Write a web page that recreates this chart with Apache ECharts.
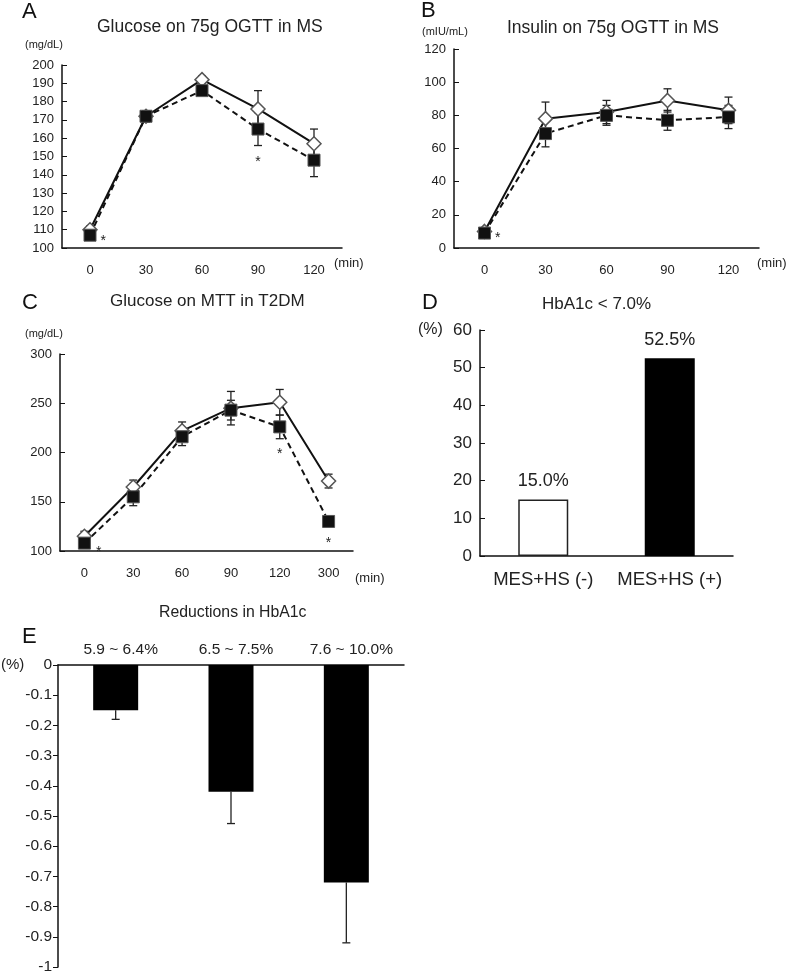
<!DOCTYPE html>
<html><head><meta charset="utf-8">
<script src="https://cdn.jsdelivr.net/npm/echarts@6/dist/echarts.min.js"></script>
<style>html,body{margin:0;padding:0;background:#fff}#c{width:787px;height:975px}</style>
</head><body><div id="c"></div>
<script>
// ---- Data ----
const catsAB = ['0','30','60','90','120'];
const catsC = ['0','30','60','90','120','300'];
// Panel A: glucose OGTT (mg/dL)
const A_solid = [110, 172, 192, 176, 157];
const A_solidErr = [2, 3, 2, 10, 8];
const A_dashed = [107, 172, 186, 165, 148];
const A_dashedErr = [2, 3, 2, 9, 9];
const A_sig = [0, 3];
// Panel B: insulin OGTT (mIU/mL)
const B_solid = [10, 78, 82, 89, 83];
const B_solidErr = [2, 10, 7, 7, 8];
const B_dashed = [9, 69, 80, 77, 79];
const B_dashedErr = [2, 8, 6, 6, 7];
const B_sig = [0];
// Panel C: glucose MTT (mg/dL)
const C_solid = [115, 165, 222, 245, 251, 171];
const C_solidErr = [5, 7, 9, 17, 13, 7];
const C_dashed = [108, 155, 216, 243, 226, 130];
const C_dashedErr = [4, 9, 9, 10, 12, 4];
const C_sig = [0, 4, 5];
// Panel D: HbA1c < 7.0% (%)
const D_cats = ['MES+HS (-)', 'MES+HS (+)'];
const D_vals = [15.0, 52.5];
// Panel E: Reductions in HbA1c (%)
const E_cats = ['5.9 ~ 6.4%', '6.5 ~ 7.5%', '7.6 ~ 10.0%'];
const E_vals = [-0.15, -0.42, -0.72];
const E_err = [0.03, 0.105, 0.20];

const FONT = 'Liberation Sans, Arial, sans-serif';
const TXT = '#222';

function errData(vals, errs){ return vals.map((v,i)=>[i, v-errs[i], v+errs[i]]); }
function errSeries(idx, vals, errs, capBottom, capTop){
  return {
    type:'custom', xAxisIndex:idx, yAxisIndex:idx, z:1, silent:true,
    data: errData(vals, errs),
    encode:{x:0, y:[1,2]},
    renderItem:function(params, api){
      const lo = api.coord([api.value(0), api.value(1)]);
      const hi = api.coord([api.value(0), api.value(2)]);
      const w = 4;
      const st = {stroke:'#222', lineWidth:1.3};
      const ch = [{type:'line', shape:{x1:lo[0],y1:lo[1],x2:hi[0],y2:hi[1]}, style:st}];
      if (capBottom!==false) ch.push({type:'line', shape:{x1:lo[0]-w,y1:lo[1],x2:lo[0]+w,y2:lo[1]}, style:st});
      if (capTop!==false) ch.push({type:'line', shape:{x1:hi[0]-w,y1:hi[1],x2:hi[0]+w,y2:hi[1]}, style:st});
      return {type:'group', children:ch};
    }
  };
}
function lineSeries(idx, vals, dashed, sig, sigPos){
  return {
    type:'line', xAxisIndex:idx, yAxisIndex:idx, z:3,
    data: vals.map((v,i)=>{
      const it = {value:v};
      if (sig && sig.indexOf(i)>=0){
        const p = sigPos[i];
        it.label = {show:true, formatter:'*', position:p.pos, distance:p.dist||5, offset:p.off||[0,0],
          fontSize:14, color:TXT, fontFamily:FONT};
      }
      return it;
    }),
    symbol: dashed ? 'rect' : 'diamond',
    symbolSize: dashed ? 12 : 14,
    lineStyle:{color:'#111', width:2, type: dashed ? [6,4] : 'solid'},
    itemStyle: dashed ? {color:'#111', borderColor:'#555', borderWidth:1} : {color:'#fff', borderColor:'#555', borderWidth:1.5},
    label:{show:false}
  };
}
function xCat(idx, cats){
  return {type:'category', gridIndex:idx, data:cats, boundaryGap:true,
    axisLine:{lineStyle:{color:'#111', width:1.5}},
    axisTick:{inside:true, length:5, lineStyle:{color:'#111'}},
    axisLabel:{color:TXT, fontSize:13, fontFamily:FONT, margin:16, interval:0}};
}
function yVal(idx, min, max, interval, fs, inside){
  return {type:'value', gridIndex:idx, min:min, max:max, interval:interval,
    splitLine:{show:false},
    axisLine:{show:true, lineStyle:{color:'#111', width:1.5}},
    axisTick:{show:true, inside:inside, length:5, lineStyle:{color:'#111'}},
    axisLabel:{color:TXT, fontSize:fs, fontFamily:FONT, margin:inside?8:6}};
}

const option = {
  animation:false,
  backgroundColor:'#fff',
  textStyle:{fontFamily:FONT},
  grid:[
    {left:62, top:65, width:280, height:183},
    {left:454, top:49, width:305, height:199},
    {left:60, top:354, width:293, height:197},
    {left:480, top:330, width:253, height:226},
    {left:58, top:665, width:346, height:302}
  ],
  xAxis:[
    xCat(0, catsAB), xCat(1, catsAB), xCat(2, catsC),
    {type:'category', gridIndex:3, data:D_cats,
      axisLine:{lineStyle:{color:'#111', width:1.5}},
      axisTick:{inside:true, length:6, lineStyle:{color:'#111'}},
      axisLabel:{color:TXT, fontSize:18.5, fontFamily:FONT, margin:14, interval:0}},
    {type:'category', gridIndex:4, data:E_cats, position:'top',
      axisLine:{lineStyle:{color:'#111', width:1.5}},
      axisTick:{show:false},
      axisLabel:{color:TXT, fontSize:15.5, fontFamily:FONT, margin:7, interval:0, padding:[0,0,0,10]}}
  ],
  yAxis:[
    yVal(0, 100, 200, 10, 13, true),
    yVal(1, 0, 120, 20, 13, true),
    yVal(2, 100, 300, 50, 13, true),
    yVal(3, 0, 60, 10, 17, true),
    yVal(4, -1, 0, 0.1, 15.5, false)
  ],
  graphic:[
    {type:'text', left:22, top:1, style:{text:'A', fontSize:22, fill:'#111', fontFamily:FONT}},
    {type:'text', left:97, top:18, style:{text:'Glucose on 75g OGTT in MS', fontSize:17.5, fill:TXT, fontFamily:FONT}},
    {type:'text', left:25, top:39, style:{text:'(mg/dL)', fontSize:11, fill:TXT, fontFamily:FONT}},
    {type:'text', left:334, top:257, style:{text:'(min)', fontSize:13, fill:TXT, fontFamily:FONT}},

    {type:'text', left:421, top:0, style:{text:'B', fontSize:22, fill:'#111', fontFamily:FONT}},
    {type:'text', left:507, top:19, style:{text:'Insulin on 75g OGTT in MS', fontSize:17.5, fill:TXT, fontFamily:FONT}},
    {type:'text', left:422, top:26, style:{text:'(mIU/mL)', fontSize:11, fill:TXT, fontFamily:FONT}},
    {type:'text', left:757, top:257, style:{text:'(min)', fontSize:13, fill:TXT, fontFamily:FONT}},

    {type:'text', left:22, top:292, style:{text:'C', fontSize:22, fill:'#111', fontFamily:FONT}},
    {type:'text', left:110, top:293, style:{text:'Glucose on MTT in T2DM', fontSize:17, fill:TXT, fontFamily:FONT}},
    {type:'text', left:25, top:328, style:{text:'(mg/dL)', fontSize:11, fill:TXT, fontFamily:FONT}},
    {type:'text', left:355, top:572, style:{text:'(min)', fontSize:13, fill:TXT, fontFamily:FONT}},

    {type:'text', left:422, top:292, style:{text:'D', fontSize:22, fill:'#111', fontFamily:FONT}},
    {type:'text', left:542, top:296, style:{text:'HbA1c < 7.0%', fontSize:17, fill:TXT, fontFamily:FONT}},
    {type:'text', left:418, top:322, style:{text:'(%)', fontSize:16, fill:TXT, fontFamily:FONT}},

    {type:'text', left:22, top:626, style:{text:'E', fontSize:22, fill:'#111', fontFamily:FONT}},
    {type:'text', left:159, top:605, style:{text:'Reductions in HbA1c', fontSize:15.8, fill:TXT, fontFamily:FONT}},
    {type:'text', left:1, top:657, style:{text:'(%)', fontSize:15, fill:TXT, fontFamily:FONT}}
  ],
  series:[
    errSeries(0, A_solid, A_solidErr), errSeries(0, A_dashed, A_dashedErr),
    lineSeries(0, A_solid, false),
    lineSeries(0, A_dashed, true, A_sig, {0:{pos:'right', dist:4, off:[0,6]}, 3:{pos:'bottom', dist:20}}),

    errSeries(1, B_solid, B_solidErr), errSeries(1, B_dashed, B_dashedErr),
    lineSeries(1, B_solid, false),
    lineSeries(1, B_dashed, true, B_sig, {0:{pos:'right', dist:4, off:[0,5]}}),

    errSeries(2, C_solid, C_solidErr), errSeries(2, C_dashed, C_dashedErr),
    lineSeries(2, C_solid, false),
    lineSeries(2, C_dashed, true, C_sig, {0:{pos:'right', dist:5, off:[0,9]}, 4:{pos:'bottom', dist:14}, 5:{pos:'bottom', dist:8}}),

    {type:'bar', xAxisIndex:3, yAxisIndex:3, barWidth:50,
      data: D_vals.map((v,i)=>({value:v, itemStyle: i===0 ? {color:'#fff', borderColor:'#222', borderWidth:1.5} : {color:'#000'}})),
      label:{show:true, position:'top', distance:9, fontSize:18, color:TXT, fontFamily:FONT, formatter:p=>p.value.toFixed(1)+'%'}},

    {type:'bar', xAxisIndex:4, yAxisIndex:4, barWidth:45, z:2,
      data:E_vals, itemStyle:{color:'#000'}},
    errSeries(4, E_vals.map((v,i)=>v-E_err[i]/2), E_err.map(e=>e/2), true, false)
  ]
};
const chart = echarts.init(document.getElementById('c'), null, {renderer:'canvas'});
chart.setOption(option);
</script></body></html>
